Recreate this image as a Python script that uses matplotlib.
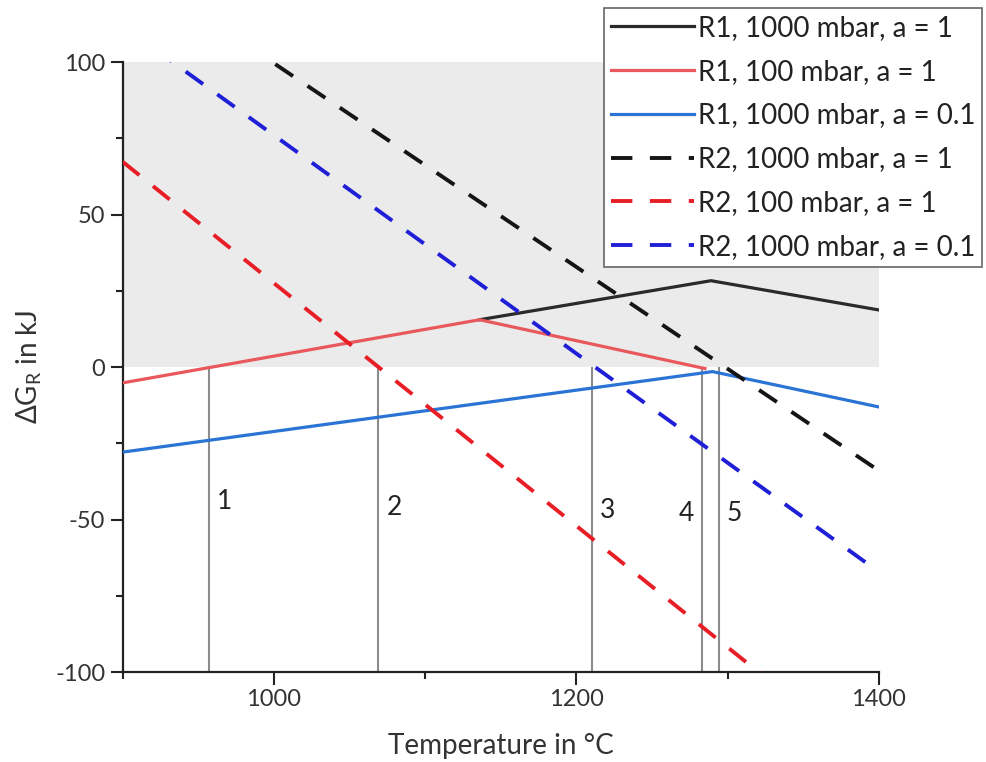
import matplotlib
matplotlib.use('Agg')
import matplotlib.pyplot as plt
from matplotlib.ticker import FixedLocator

plt.rcParams['font.family'] = ['Lato', 'DejaVu Sans']
plt.rcParams['mathtext.fontset'] = 'custom'
plt.rcParams['mathtext.rm'] = 'Lato'
plt.rcParams['axes.unicode_minus'] = False

# R1 (solid lines), piecewise linear
t_r1_1000_a1 = [1136, 1289, 1400]
g_r1_1000_a1 = [15.5, 28.3, 18.7]
t_r1_100_a1 = [900, 1136, 1285]
g_r1_100_a1 = [-5.2, 15.5, -0.5]
t_r1_1000_a01 = [900, 1290, 1400]
g_r1_1000_a01 = [-27.9, -1.5, -13.1]

# R2 (dashed lines), linear
t_r2 = [900, 1400]
g_r2_1000_a1 = [133.0, -34.0]
g_r2_100_a1 = [67.3, -131.7]
g_r2_1000_a01 = [111.8, -67.2]

# marker lines 1..5
mark_t = [957, 1069, 1210, 1283, 1294]
mark_lbl = ['1', '2', '3', '4', '5']
mark_lbl_y = [-44, -46, -47, -48, -48]

fig = plt.figure(figsize=(9.86, 7.62), dpi=100)
ax = fig.add_axes([0.1244, 0.1181, 0.767, 0.8005])

ax.axhspan(0, 100, color='#ebebeb', zorder=0, lw=0)
ax.vlines(mark_t, -100, 0, color='#8c8c8c', lw=1.5, zorder=1)
for i in range(len(mark_t)):
    if mark_lbl[i] == '4':
        ax.annotate(mark_lbl[i], (mark_t[i], mark_lbl_y[i]), xytext=(-6, 0), textcoords='offset points',
                    ha='right', va='center', fontsize=19, color='#222222')
    else:
        ax.annotate(mark_lbl[i], (mark_t[i], mark_lbl_y[i]), xytext=(6, 0), textcoords='offset points',
                    ha='left', va='center', fontsize=19, color='#222222')

dash = (0, (5.5, 4.5))
ax.plot(t_r1_1000_a1, g_r1_1000_a1, color='#2a2a2a', lw=2.3, label='R1, 1000 mbar, a = 1', zorder=3)
ax.plot(t_r1_100_a1, g_r1_100_a1, color='#e8585c', lw=2.3, label='R1, 100 mbar, a = 1', zorder=3)
ax.plot(t_r1_1000_a01, g_r1_1000_a01, color='#2a74d6', lw=2.3, label='R1, 1000 mbar, a = 0.1', zorder=3)
ax.plot(t_r2, g_r2_1000_a1, color='#151515', lw=2.8, linestyle=dash, label='R2, 1000 mbar, a = 1', zorder=4)
ax.plot(t_r2, g_r2_100_a1, color='#e81e26', lw=2.8, linestyle=dash, label='R2, 100 mbar, a = 1', zorder=4)
ax.plot(t_r2, g_r2_1000_a01, color='#1f1fd8', lw=2.8, linestyle=dash, label='R2, 1000 mbar, a = 0.1', zorder=4)

ax.set_xlim(900, 1400)
ax.set_ylim(-100, 100)
ax.xaxis.set_major_locator(FixedLocator([1000, 1200, 1400]))
ax.xaxis.set_minor_locator(FixedLocator([900, 1100, 1300]))
ax.yaxis.set_major_locator(FixedLocator([-100, -50, 0, 50, 100]))
ax.yaxis.set_minor_locator(FixedLocator([-75, -25, 25, 75]))
ax.tick_params(which='major', direction='out', length=9, width=1.5, labelsize=17, colors='#222222',
               labelcolor='#333333')
ax.tick_params(which='minor', direction='out', length=5, width=1.5, colors='#222222')

for s in ['top', 'right']:
    ax.spines[s].set_visible(False)
for s in ['left', 'bottom']:
    ax.spines[s].set_linewidth(1.6)
    ax.spines[s].set_color('#222222')

ax.set_xlabel('Temperature in °C', fontsize=20, color='#333333', labelpad=16)
ax.set_ylabel('ΔG$_\\mathregular{R}$ in kJ', fontsize=20, color='#333333', labelpad=8)

leg = ax.legend(loc='upper right', bbox_to_anchor=(982 / 986, 1 - 8 / 762), bbox_transform=fig.transFigure,
                fontsize=20, frameon=True, fancybox=False, edgecolor='#666666', framealpha=1,
                handlelength=3.0, handletextpad=0.12, borderpad=0.25, labelspacing=0.64, borderaxespad=0)
leg.get_frame().set_linewidth(1.2)
for t in leg.get_texts():
    t.set_color('#222222')

fig.savefig('out.png', dpi=100)
